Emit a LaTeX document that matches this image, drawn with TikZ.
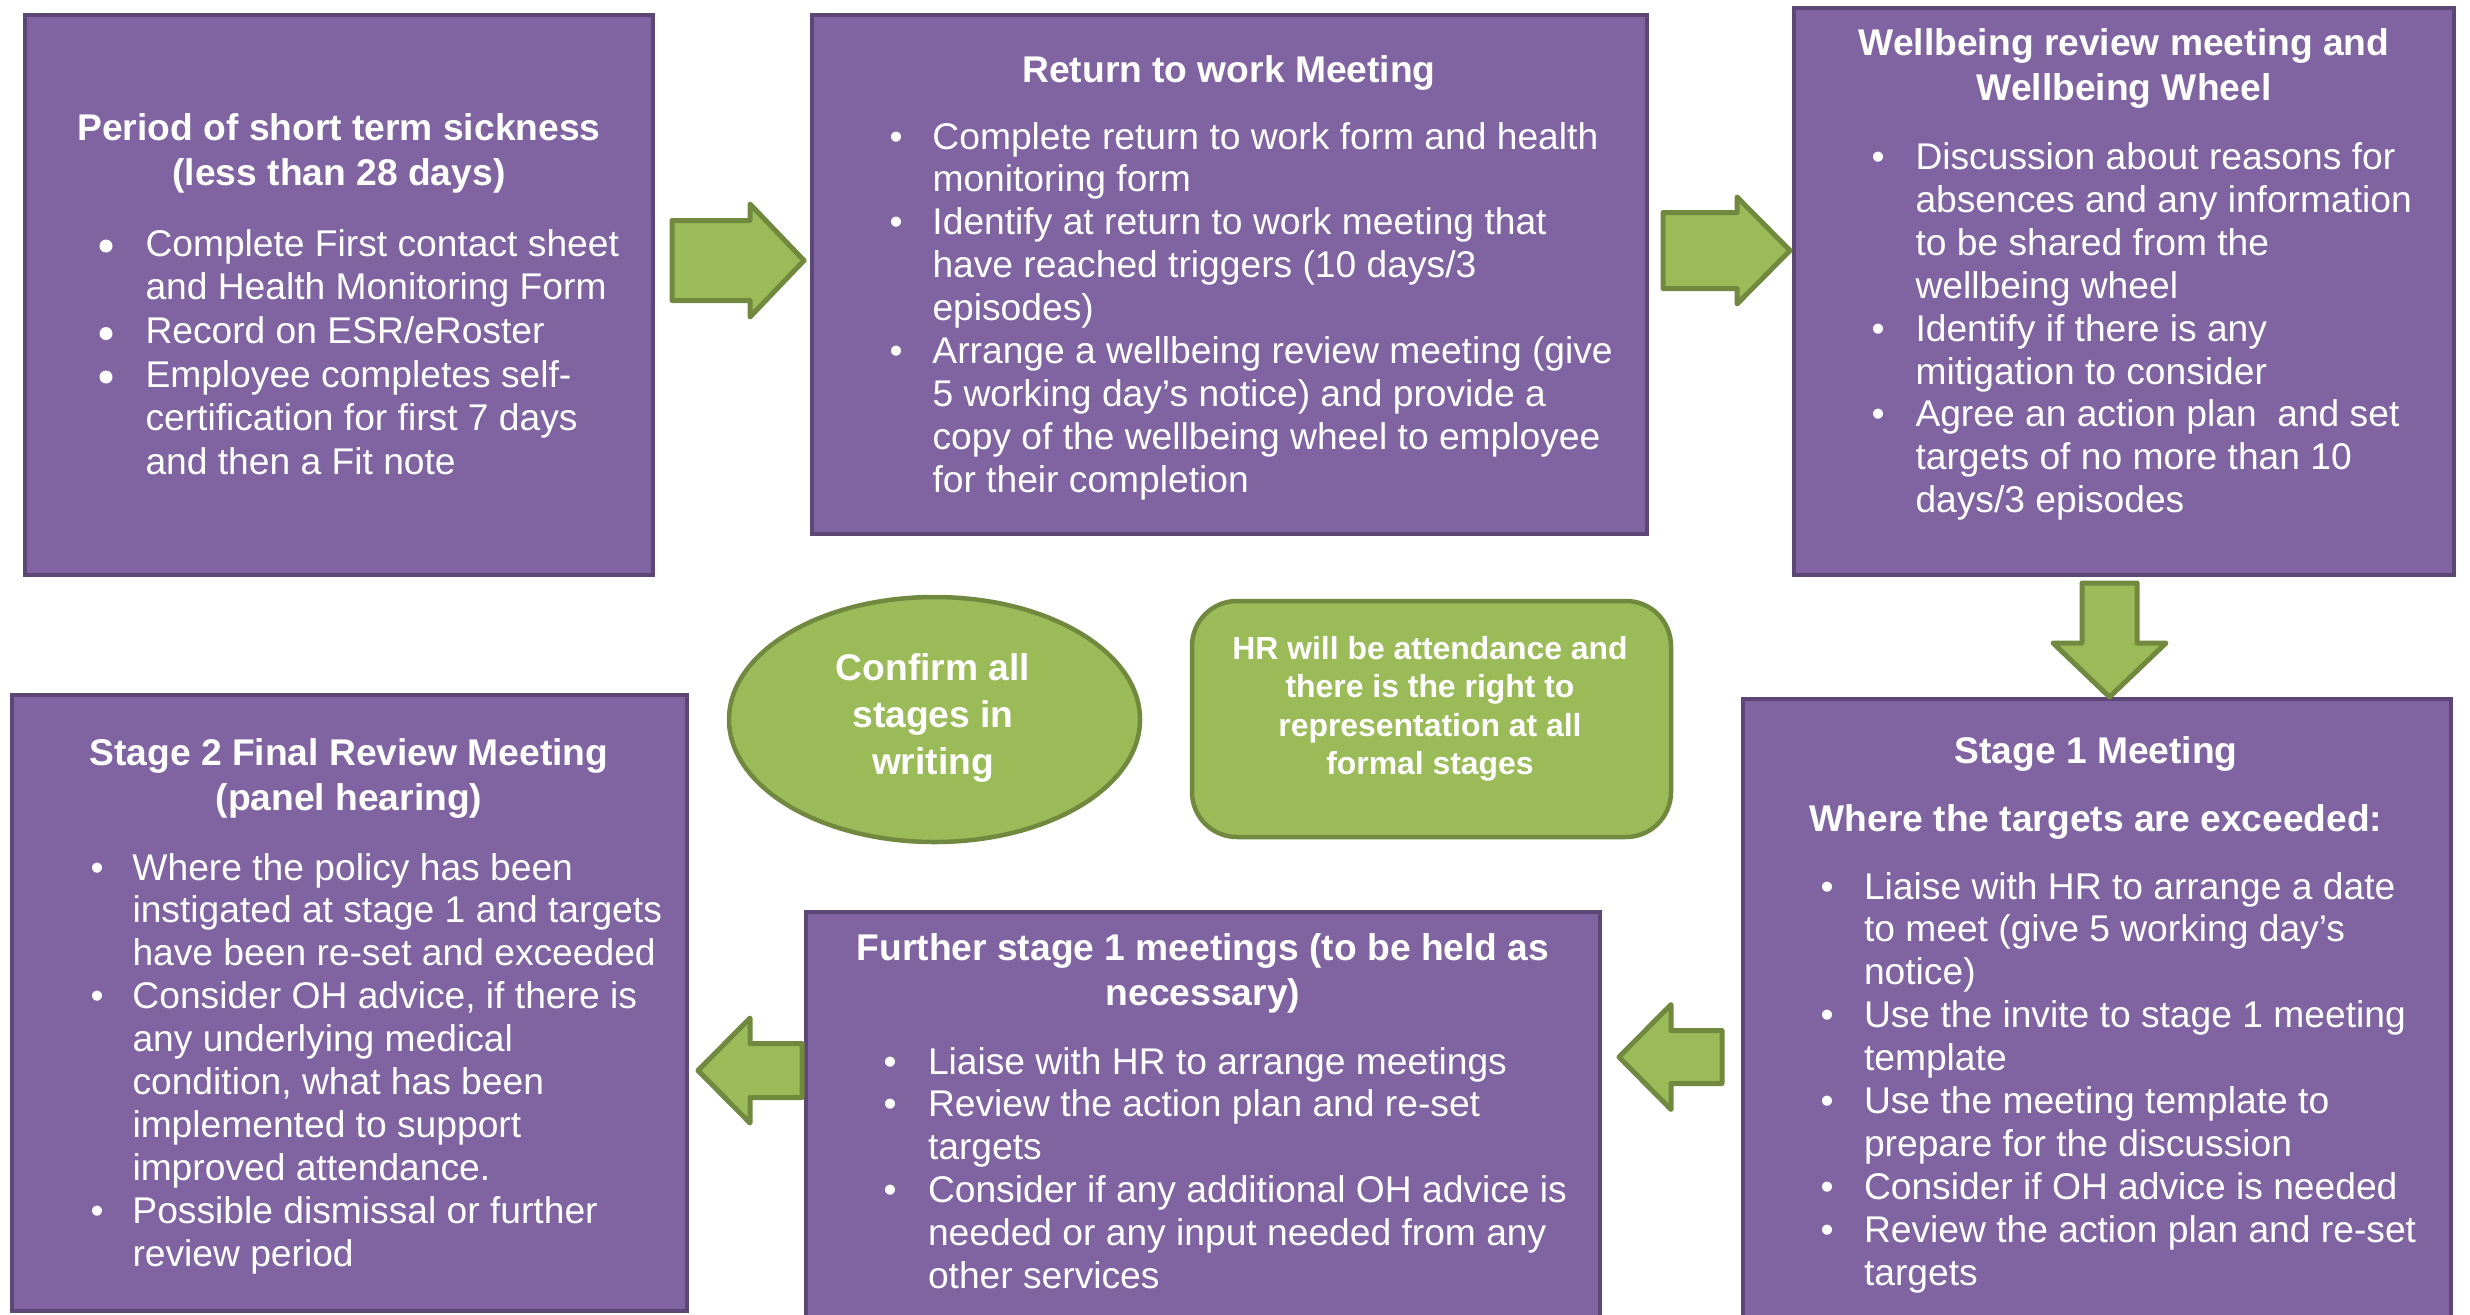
\documentclass[tikz,border=0pt]{standalone}
\usepackage{fontspec}
\setmainfont{Liberation Sans}
\usetikzlibrary{fit,shapes.geometric}
\definecolor{pfill}{HTML}{8064A2}
\definecolor{pline}{HTML}{5C4776}
\definecolor{gfill}{HTML}{9BBB59}
\definecolor{gline}{HTML}{71893F}
\newcommand\blist[2]{\begin{tabular}[t]{@{}p{#1}@{}l@{}}#2\end{tabular}}
\newcommand\tlines[1]{\begin{tabular}[t]{@{}c@{}}#1\end{tabular}}
\newcommand\rarr[6]{\filldraw[garrow] (#1,#4-#5) -- (#2,#4-#5) -- (#2,#4-#6) -- (#3,#4) -- (#2,#4+#6) -- (#2,#4+#5) -- (#1,#4+#5) -- cycle;}
\newcommand\darr[6]{\filldraw[garrow] (#1-#5,#2) -- (#1-#5,#3) -- (#1-#6,#3) -- (#1,#4) -- (#1+#6,#3) -- (#1+#5,#3) -- (#1+#5,#2) -- cycle;}
\begin{document}
\begin{tikzpicture}[x=0.4pt,y=-0.4pt,
  pbox/.style={draw=pline, fill=pfill, line width=1.8pt, inner sep=0pt},
  gshape/.style={draw=gline, fill=gfill, line width=1.8pt, inner sep=0pt},
  garrow/.style={draw=gline, fill=gfill, line width=2pt, line join=round},
  bigdot/.style={fill=white},
  ttl/.style={anchor=base, inner sep=0pt, text=white, font=\bfseries\fontsize{14.88}{18.3}\selectfont},
  lst/.style={anchor=base west, inner sep=0pt, text=white, font=\fontsize{14.88}{17.16}\selectfont}]
\useasboundingbox (0,0) rectangle (2470,1314);
\fill[white] (0,0) rectangle (2470,1314);
\clip (0,0) rectangle (2470,1314);

% boxes
\node[pbox, fit={(25,15)(653,575)}] (b1) {};
\node[pbox, fit={(812,15)(1647,534)}] (b2) {};
\node[pbox, fit={(1794,8)(2454,575)}] (b3) {};
\node[pbox, fit={(1743,699)(2451,1345)}] (b4) {};
\node[pbox, fit={(806,912)(1600,1345)}] (b5) {};
\node[pbox, fit={(12,695)(687,1311)}] (b6) {};

% box 1
\node[ttl] (t1) at (339,140) {\tlines{Period of short term sickness\\(less than 28 days)}};
\node[lst, font=\fontsize{14.88}{17.48}\selectfont] (l1) at (99,256) {\blist{18.4pt}{%
 & Complete First contact sheet\\
 & and Health Monitoring Form\\
 & Record on ESR/eRoster\\
 & Employee completes self-\\
 & certification for first 7 days\\
 & and then a Fit note}};
\fill[bigdot] (106,246) circle [radius=6.5];
\fill[bigdot] (106,333.5) circle [radius=6.5];
\fill[bigdot] (106,377) circle [radius=6.5];

% box 2
\node[ttl] (t2) at (1229,82) {\tlines{Return to work Meeting}};
\node[lst] (l2) at (889,149) {\blist{17.2pt}{%
• & Complete return to work form and health\\
 & monitoring form\\
• & Identify at return to work meeting that\\
 & have reached triggers (10 days/3\\
 & episodes)\\
• & Arrange a wellbeing review meeting (give\\
 & 5 working day’s notice) and provide a\\
 & copy of the wellbeing wheel to employee\\
 & for their completion}};

% box 3
\node[ttl] (t3) at (2124,55) {\tlines{Wellbeing review meeting and\\Wellbeing Wheel}};
\node[lst] (l3) at (1871,169.5) {\blist{17.6pt}{%
• & Discussion about reasons for\\
 & absences and any information\\
 & to be shared from the\\
 & wellbeing wheel\\
• & Identify if there is any\\
 & mitigation to consider\\
• & Agree an action plan\ \ and set\\
 & targets of no more than 10\\
 & days/3 episodes}};

% box 4
\node[ttl] (t4) at (2096,763) {\tlines{Stage 1 Meeting}};
\node[ttl] (s4) at (2096,831) {\tlines{Where the targets are exceeded:}};
\node[lst] (l4) at (1820,899) {\blist{17.4pt}{%
• & Liaise with HR to arrange a date\\
 & to meet (give 5 working day’s\\
 & notice)\\
• & Use the invite to stage 1 meeting\\
 & template\\
• & Use the meeting template to\\
 & prepare for the discussion\\
• & Consider if OH advice is needed\\
• & Review the action plan and re-set\\
 & targets}};

% box 5
\node[ttl] (t5) at (1203,960) {\tlines{Further stage 1 meetings (to be held as\\necessary)}};
\node[lst] (l5) at (883,1074) {\blist{17.8pt}{%
• & Liaise with HR to arrange meetings\\
• & Review the action plan and re-set\\
 & targets\\
• & Consider if any additional OH advice is\\
 & needed or any input needed from any\\
 & other services}};

% box 6
\node[ttl] (t6) at (349,765) {\tlines{Stage 2 Final Review Meeting\\(panel hearing)}};
\node[lst] (l6) at (90,880) {\blist{16.8pt}{%
• & Where the policy has been\\
 & instigated at stage 1 and targets\\
 & have been re-set and exceeded\\
• & Consider OH advice, if there is\\
 & any underlying medical\\
 & condition, what has been\\
 & implemented to support\\
 & improved attendance.\\
• & Possible dismissal or further\\
 & review period}};

% green shapes
\node[gshape, ellipse, minimum width=164.4pt, minimum height=98pt] (conf) at (934.5,719.5) {};
\node[ttl, font=\bfseries\fontsize{14.88}{18.8}\selectfont] (conft) at (933,680) {\tlines{Confirm all\\stages in\\writing}};
\node[gshape, rounded corners=18pt, fit={(1192,601)(1671,837)}] (hr) {};
\node[ttl, font=\bfseries\fontsize{12.76}{15.4}\selectfont] (hrt) at (1430,659) {\tlines{HR will be attendance and\\there is the right to\\representation at all\\formal stages}};

% block arrows
\rarr{672}{750}{804}{260.5}{40}{56.5}
\rarr{1663}{1737}{1790}{250.5}{38}{53.5}
\darr{2109.5}{583}{643}{697}{27.5}{56.5}
\rarr{1722}{1671}{1619}{1057}{26.5}{52.5}
\rarr{802}{750}{698}{1070.5}{27}{52.5}
\end{tikzpicture}
\end{document}
